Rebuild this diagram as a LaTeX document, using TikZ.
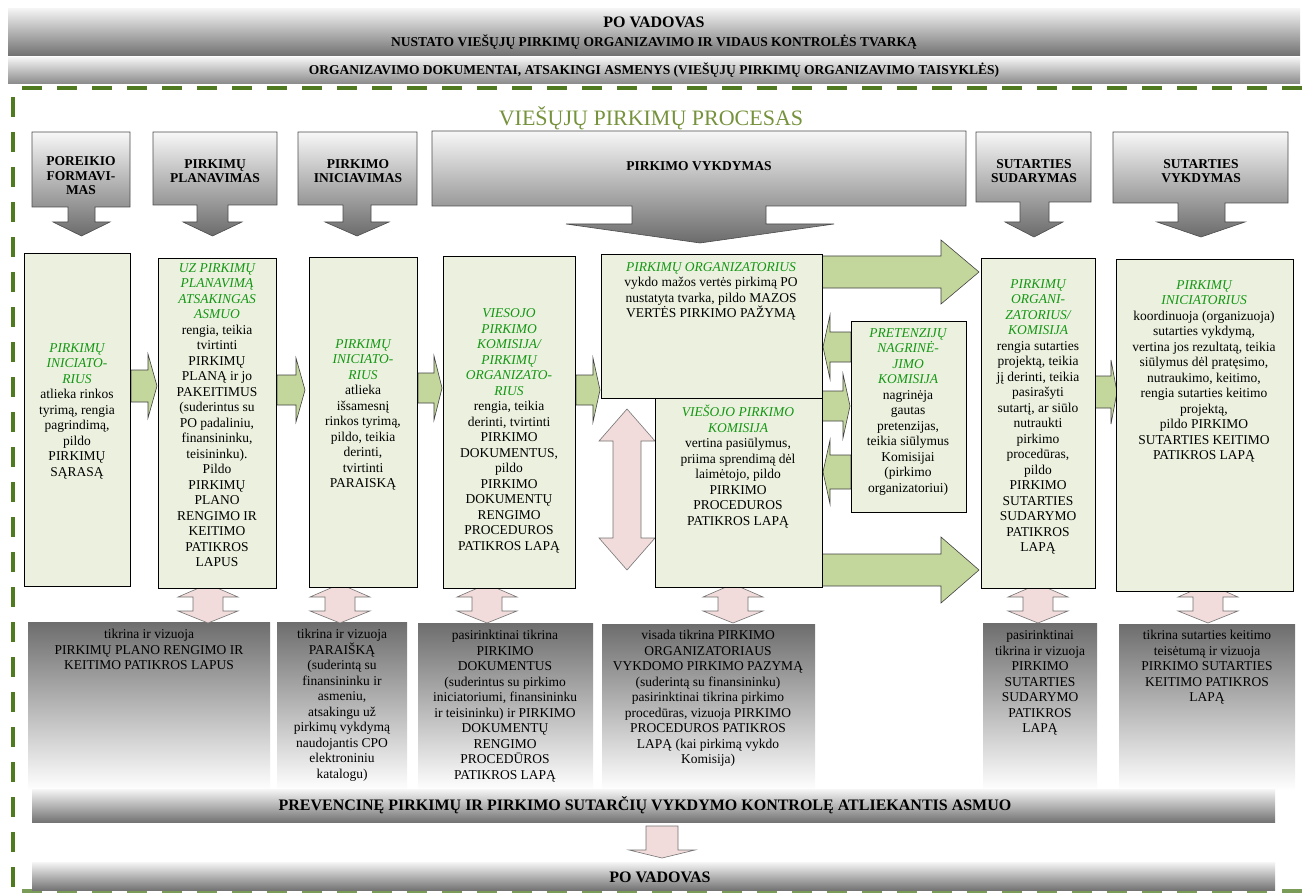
\documentclass[tikz,border=0pt]{standalone}
\usepackage{fontspec}
\setmainfont{Liberation Serif}
\definecolor{boxgreen}{HTML}{EBF1DE}
\definecolor{arrgreen}{HTML}{C3D69B}
\definecolor{pinkarr}{HTML}{F2DCDB}
\definecolor{hgreen}{RGB}{20,150,20}
\definecolor{titolive}{HTML}{76923C}
\definecolor{dashgreen}{RGB}{79,122,32}
\newcommand\hg{\color{hgreen}\itshape}
% style, x0, xs, xt, yc, hs, hh
\newcommand\blockarr[7]{\path[#1] ({#2},{#5-#6}) -- ({#3},{#5-#6}) -- ({#3},{#5-#7}) -- ({#4},{#5}) -- ({#3},{#5+#7}) -- ({#3},{#5+#6}) -- ({#2},{#5+#6}) -- cycle;}
% style, xc, ytip1, ybase1, ybase2, ytip2, hs, hh
\newcommand\dblarr[8]{\path[#1] ({#2},{#3}) -- ({#2+#8},{#4}) -- ({#2+#7},{#4}) -- ({#2+#7},{#5}) -- ({#2+#8},{#5}) -- ({#2},{#6}) -- ({#2-#8},{#5}) -- ({#2-#7},{#5}) -- ({#2-#7},{#4}) -- ({#2-#8},{#4}) -- cycle;}
\begin{document}
\begin{tikzpicture}[x=1pt,y=-1pt,
  gbox/.style={draw=black, line width=0.7pt, fill=boxgreen, inner sep=0, anchor=north west},
  grbox/.style={top color=black!57, bottom color=white, inner sep=0, anchor=north west},
  bar/.style={top color=white!96!black, bottom color=black!55, inner sep=0, anchor=north west},
  txt/.style={align=center, inner sep=0, font=\fontsize{13.5}{15.5}\selectfont},
  hdr/.style={align=center, inner sep=0, font=\bfseries\fontsize{13.5}{14.5}\selectfont},
  bartxt/.style={inner sep=0, font=\bfseries\fontsize{16}{18}\selectfont},
  smbar/.style={inner sep=0, font=\bfseries\fontsize{13.5}{15}\selectfont},
  garr/.style={draw=black!75, line width=0.6pt, fill=arrgreen},
  parr/.style={draw=black!55, line width=0.6pt, fill=pinkarr},
  harr/.style={draw=black!70, line width=0.6pt, top color=white!97!black, bottom color=black!58},
  dashline/.style={draw=dashgreen, line width=3.5pt, dash pattern=on 20pt off 15pt}]
\useasboundingbox (0,0) rectangle (1303,893);

% top bands
\node[bar, minimum width=1292, minimum height=47] (band1) at (8,8) {};
\node[bartxt] (band1a) at (654,22) {PO VADOVAS};
\node[smbar] (band1b) at (654,42) {NUSTATO VIEŠŲJŲ PIRKIMŲ ORGANIZAVIMO IR VIDAUS KONTROLĖS TVARKĄ};
\node[bar, minimum width=1292, minimum height=26, bottom color=black!45] (band2) at (8,57) {};
\node[smbar] (band2a) at (654,70) {ORGANIZAVIMO DOKUMENTAI, ATSAKINGI ASMENYS (VIEŠŲJŲ PIRKIMŲ ORGANIZAVIMO TAISYKLĖS)};

% dashed frame
\coordinate (d1) at (22,88); \coordinate (d2) at (1303,88);
\coordinate (d3) at (13,97); \coordinate (d4) at (13,893);
\coordinate (d5) at (22,891); \coordinate (d6) at (1303,891);
\draw[dashline] (d1) -- (d2);
\draw[dashline] (d3) -- (d4);
\draw[dashline, draw=dashgreen!75] (d5) -- (d6);

% title
\node[inner sep=0, text=titolive, font=\fontsize{22}{24}\selectfont] (title) at (651,118) {VIEŠŲJŲ PIRKIMŲ PROCESAS};

% header arrows
\path[harr] (32,132) -- (130,132) -- (130,207) -- (95,207) -- (95,222) -- (110,222) -- (81.5,236) -- (53,222) -- (68,222) -- (68,207) -- (32,207) -- cycle;
\path[harr] (153,132) -- (277,132) -- (277,205) -- (228,205) -- (228,222) -- (242,222) -- (212.5,236) -- (183,222) -- (197,222) -- (197,205) -- (153,205) -- cycle;
\path[harr] (298,132) -- (417,132) -- (417,205) -- (371,205) -- (371,222) -- (389,222) -- (357,236) -- (325,222) -- (343,222) -- (343,205) -- (298,205) -- cycle;
\path[harr] (432,131) -- (966,131) -- (966,206) -- (766,206) -- (766,224) -- (834,224) -- (700,243) -- (566,224) -- (632,224) -- (632,206) -- (432,206) -- cycle;
\path[harr] (976,132) -- (1091,132) -- (1091,202) -- (1049,202) -- (1049,222) -- (1063,222) -- (1034,237) -- (1005,222) -- (1020,222) -- (1020,202) -- (976,202) -- cycle;
\path[harr] (1113,132) -- (1288,132) -- (1288,203) -- (1225,203) -- (1225,222) -- (1245,222) -- (1201,237) -- (1157,222) -- (1178,222) -- (1178,203) -- (1113,203) -- cycle;
\node[hdr] (h1) at (81,176) {POREIKIO\\FORMAVI-\\MAS};
\node[hdr] (h2) at (215,171) {PIRKIMŲ\\PLANAVIMAS};
\node[hdr] (h3) at (358,171) {PIRKIMO\\INICIAVIMAS};
\node[hdr] (h4) at (699,166) {PIRKIMO VYKDYMAS};
\node[hdr] (h5) at (1034,171) {SUTARTIES\\SUDARYMAS};
\node[hdr] (h6) at (1201,171) {SUTARTIES\\VYKDYMAS};

% gray control boxes
\node[grbox, minimum width=242, minimum height=168] (g1) at (28,622) {};
\node[grbox, minimum width=130, minimum height=168] (g2) at (277,622) {};
\node[grbox, minimum width=175, minimum height=167] (g3) at (418,623) {};
\node[grbox, minimum width=213, minimum height=166] (g4) at (602,624) {};
\node[grbox, minimum width=114, minimum height=167] (g5) at (983,623) {};
\node[grbox, minimum width=176, minimum height=166] (g6) at (1119,624) {};

% pink up-down arrows
\dblarr{parr}{208}{584}{597}{611}{623}{15}{30}
\dblarr{parr}{340}{584}{597}{611}{623}{15}{30}
\dblarr{parr}{487}{584}{597}{611}{623}{15}{30}
\dblarr{parr}{733}{584}{597}{611}{623}{15}{30}
\dblarr{parr}{1038}{584}{597}{611}{623}{15}{30}
\dblarr{parr}{1208}{584}{597}{611}{623}{15}{30}
\dblarr{parr}{627}{409}{441}{538}{570}{14}{28}

% green block arrows
\blockarr{garr}{131}{148}{157}{386}{16}{32}
\blockarr{garr}{277}{296}{305}{390}{15}{32}
\blockarr{garr}{418}{434}{442}{388}{15}{32}
\blockarr{garr}{576}{593}{600}{390}{15}{32}
\blockarr{garr}{822}{941}{979}{272}{16}{32}
\blockarr{garr}{822}{941}{979}{570}{16}{33}
\blockarr{garr}{822}{843}{850}{406}{15}{32}
\blockarr{garr}{851}{830}{823}{347}{15}{32}
\blockarr{garr}{851}{830}{823}{472}{17}{32}
\blockarr{garr}{1095}{1111}{1117}{392}{16}{32}

% green boxes
\node[gbox, minimum width=106, minimum height=333] (b1) at (24,253) {};
\node[gbox, minimum width=118, minimum height=330] (b2) at (158,258) {};
\node[gbox, minimum width=108, minimum height=330] (b3) at (309,257) {};
\node[gbox, minimum width=132, minimum height=332] (b4) at (443,256) {};
\node[gbox, minimum width=221, minimum height=144] (b5) at (601,254) {};
\node[gbox, minimum width=167, minimum height=189] (b6) at (655,398) {};
\node[gbox, minimum width=115, minimum height=191] (b7) at (851,321) {};
\node[gbox, minimum width=114, minimum height=330] (b8) at (981,258) {};
\node[gbox, minimum width=177, minimum height=332] (b9) at (1116,259) {};

\node[txt] (b1t) at (77,411) {\hg PIRKIMŲ\\\hg INICIATO-\\\hg RIUS\\atlieka rinkos\\tyrimą, rengia\\pagrindimą,\\pildo\\PIRKIMŲ\\SĄRASĄ};
\node[txt, anchor=north] (b2t) at (217,263) {\hg UZ PIRKIMŲ\\\hg PLANAVIMĄ\\\hg ATSAKINGAS\\\hg ASMUO\\rengia, teikia\\tvirtinti\\PIRKIMŲ\\PLANĄ ir jo\\PAKEITIMUS\\(suderintus su\\PO padaliniu,\\finansininku,\\teisininku).\\Pildo\\PIRKIMŲ\\PLANO\\RENGIMO IR\\KEITIMO\\PATIKROS\\LAPUS};
\node[txt] (b3t) at (363,415) {\hg PIRKIMŲ\\\hg INICIATO-\\\hg RIUS\\atlieka\\išsamesnį\\rinkos tyrimą,\\pildo, teikia\\derinti,\\tvirtinti\\PARAISKĄ};
\node[txt] (b4t) at (509,431) {\hg VIESOJO\\\hg PIRKIMO\\\hg KOMISIJA/\\\hg PIRKIMŲ\\\hg ORGANIZATO-\\\hg RIUS\\rengia, teikia\\derinti, tvirtinti\\PIRKIMO\\DOKUMENTUS,\\pildo\\PIRKIMO\\DOKUMENTŲ\\RENGIMO\\PROCEDUROS\\PATIKROS LAPĄ};
\node[txt, anchor=north] (b5t) at (711,262) {\hg PIRKIMŲ ORGANIZATORIUS\\vykdo mažos vertės pirkimą PO\\nustatyta tvarka, pildo MAZOS\\VERTĖS PIRKIMO PAŽYMĄ};
\node[txt, anchor=north] (b6t) at (738,405) {\hg VIEŠOJO PIRKIMO\\\hg KOMISIJA\\vertina pasiūlymus,\\priima sprendimą dėl\\laimėtojo, pildo\\PIRKIMO\\PROCEDUROS\\PATIKROS LAPĄ};
\node[txt] (b7t) at (908,412) {\hg PRETENZIJŲ\\\hg NAGRINĖ-\\\hg JIMO\\\hg KOMISIJA\\nagrinėja\\gautas\\pretenzijas,\\teikia siūlymus\\Komisijai\\(pirkimo\\organizatoriui)};
\node[txt] (b8t) at (1038,417) {\hg PIRKIMŲ\\\hg ORGANI-\\\hg ZATORIUS/\\\hg KOMISIJA\\rengia sutarties\\projektą, teikia\\jį derinti, teikia\\pasirašyti\\sutartį, ar siūlo\\nutraukti\\pirkimo\\procedūras,\\pildo\\PIRKIMO\\SUTARTIES\\SUDARYMO\\PATIKROS\\LAPĄ};
\node[txt, anchor=north] (b9t) at (1204,280) {\hg PIRKIMŲ\\\hg INICIATORIUS\\koordinuoja (organizuoja)\\sutarties vykdymą,\\vertina jos rezultatą, teikia\\siūlymus dėl pratęsimo,\\nutraukimo, keitimo,\\rengia sutarties keitimo\\projektą,\\pildo PIRKIMO\\SUTARTIES KEITIMO\\PATIKROS LAPĄ};

\node[txt, anchor=north] (g1t) at (149,629) {tikrina ir vizuoja\\PIRKIMŲ PLANO RENGIMO IR\\KEITIMO PATIKROS LAPUS};
\node[txt, anchor=north] (g2t) at (342,629) {tikrina ir vizuoja\\PARAIŠKĄ\\(suderintą su\\finansininku ir\\asmeniu,\\atsakingu už\\pirkimų vykdymą\\naudojantis CPO\\elektroniniu\\katalogu)};
\node[txt, anchor=north] (g3t) at (505,630) {pasirinktinai tikrina\\PIRKIMO\\DOKUMENTUS\\(suderintus su pirkimo\\iniciatoriumi, finansininku\\ir teisininku) ir PIRKIMO\\DOKUMENTŲ\\RENGIMO\\PROCEDŪROS\\PATIKROS LAPĄ};
\node[txt, anchor=north] (g4t) at (708,630) {visada tikrina PIRKIMO\\ORGANIZATORIAUS\\VYKDOMO PIRKIMO PAZYMĄ\\(suderintą su finansininku)\\pasirinktinai tikrina pirkimo\\procedūras, vizuoja PIRKIMO\\PROCEDUROS PATIKROS\\LAPĄ (kai pirkimą vykdo\\Komisija)};
\node[txt, anchor=north] (g5t) at (1040,630) {pasirinktinai\\tikrina ir vizuoja\\PIRKIMO\\SUTARTIES\\SUDARYMO\\PATIKROS\\LAPĄ};
\node[txt, anchor=north] (g6t) at (1207,630) {tikrina sutarties keitimo\\teisėtumą ir vizuoja\\PIRKIMO SUTARTIES\\KEITIMO PATIKROS\\LAPĄ};

% bottom bars
\node[bar, minimum width=1243, minimum height=33] (prev) at (32,789) {};
\node[bartxt] (prevt) at (645,805) {PREVENCINĘ PIRKIMŲ IR PIRKIMO SUTARČIŲ VYKDYMO KONTROLĘ ATLIEKANTIS ASMUO};
\node[bar, minimum width=1243, minimum height=28] (vad) at (32,862) {};
\node[bartxt] (vadt) at (660,877) {PO VADOVAS};
\path[parr] (646,826) -- (678,826) -- (678,850) -- (695,850) -- (662,858) -- (629,850) -- (646,850) -- cycle;
\end{tikzpicture}
\end{document}
